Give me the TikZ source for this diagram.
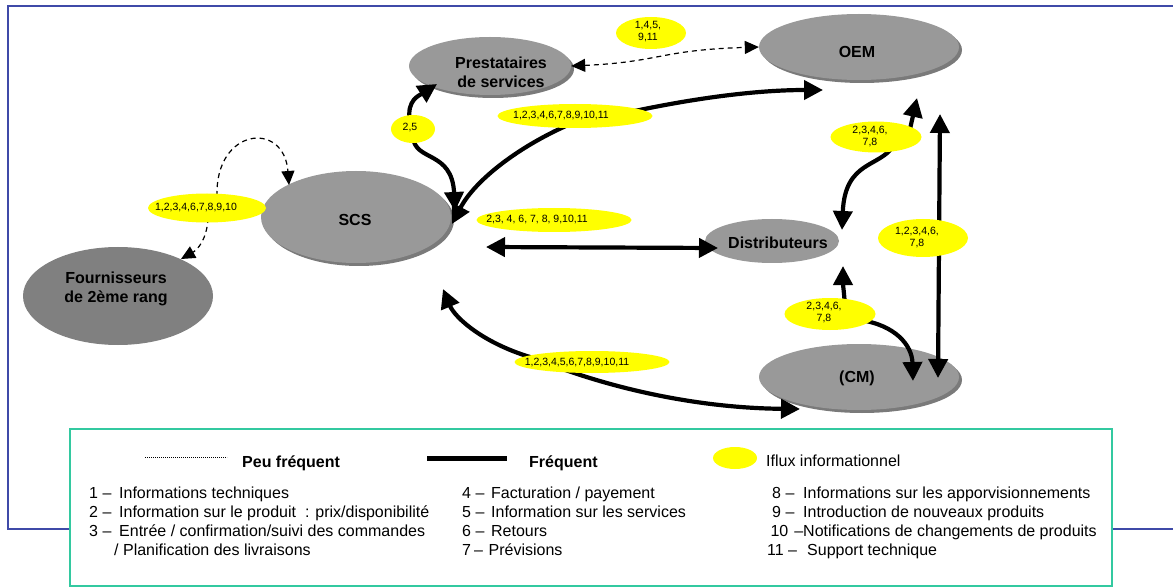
\documentclass[tikz,border=0pt]{standalone}
\usepackage{fontspec}
\setmainfont{Liberation Sans}
\usetikzlibrary{shapes.geometric,arrows.meta,shadows}

\definecolor{frameblue}{HTML}{3F4AA8}
\definecolor{legendteal}{HTML}{33C9A0}
\definecolor{actorgray}{HTML}{999999}
\definecolor{actordark}{HTML}{808080}
\definecolor{shadowgray}{HTML}{7A7A7A}
\definecolor{fluxyellow}{HTML}{FFFF00}

\pgfdeclarelayer{actors}
\pgfdeclarelayer{labels}
\pgfsetlayers{actors,main,labels}

\tikzset{
  freqtip/.tip={Triangle[length=19pt,width=19pt]},
  raretip/.tip={Triangle[length=14pt,width=13pt]},
  actor/.style={ellipse, fill=actorgray, inner sep=0pt},
  actorshadow/.style={general shadow={fill=shadowgray, shadow xshift=3pt, shadow yshift=-3pt}},
  actorlabel/.style={font=\fontsize{16}{19}\selectfont\bfseries, align=center, inner sep=0pt},
  flux/.style={ellipse, fill=fluxyellow, inner sep=0pt},
  fluxlabel/.style={font=\fontsize{10.5}{12}\selectfont, align=center, inner sep=0pt},
  frequent/.style={line width=4.2pt, -freqtip},
  frequentboth/.style={line width=4.2pt, freqtip-freqtip},
  rare/.style={line width=1.2pt, dash pattern=on 5pt off 4pt, -raretip},
  rareboth/.style={line width=1.2pt, dash pattern=on 5pt off 4pt, raretip-raretip},
  framecolor/.style={draw=frameblue, line width=1.5pt},
  legendbox/.style={draw=legendteal, fill=white, line width=1.3pt},
  legendhead/.style={font=\fontsize{16}{19}\selectfont\bfseries, anchor=base west, inner sep=0pt},
  legendtext/.style={font=\fontsize{16}{19}\selectfont, anchor=base west, inner sep=0pt},
}

\begin{document}
\begin{tikzpicture}[x=1pt,y=-1pt]
\useasboundingbox (0,0) rectangle (1173,588);

\begin{pgfonlayer}{actors}
  % outer frame and legend panel
  \draw[framecolor] (1173,6) -- (8,6) -- (8,529) -- (1173,529);
  \draw[legendbox] (70,429) rectangle (1112,586);

  % actors of the chain
  \node[actor, fill=actordark, minimum width=190pt, minimum height=98pt] (fourn) at (118,296) {};
  \node[actorlabel] (fourn-t) at (116,289) {Fournisseurs\\de 2ème rang};

  \node[actor, actorshadow, minimum width=190pt, minimum height=92pt] (scs) at (356,217) {};
  \node[actorlabel] (scs-t) at (355,220) {SCS};

  \node[actor, actorshadow, minimum width=162pt, minimum height=58pt] (prest) at (490,66) {};
  \node[actorlabel] (prest-t) at (501,72) {Prestataires\\de services};

  \node[actor, actorshadow, minimum width=200pt, minimum height=66pt] (oem) at (859,47) {};
  \node[actorlabel] (oem-t) at (857,52) {OEM};

  \node[actor, minimum width=134pt, minimum height=44pt] (dist) at (772,241) {};
  \node[actorlabel] (dist-t) at (778,243) {Distributeurs};

  \node[actor, actorshadow, minimum width=200pt, minimum height=66pt] (cm) at (859,377) {};
  \node[actorlabel] (cm-t) at (857,378) {(CM)};
\end{pgfonlayer}

\begin{pgfonlayer}{labels}
  % information flows
  \node[flux, minimum width=118pt, minimum height=29pt] (f1) at (207,208) {};
  \node[fluxlabel] (f1-t) at (196,208) {1,2,3,4,6,7,8,9,10};
  \node[flux, minimum width=70pt, minimum height=32pt] (f2) at (651,33) {};
  \node[fluxlabel] (f2-t) at (648,32) {1,4,5,\\9,11};
  \node[flux, minimum width=44pt, minimum height=28pt] (f3) at (413,129) {};
  \node[fluxlabel] (f3-t) at (410,128) {2,5};
  \node[flux, minimum width=155pt, minimum height=24pt] (f4) at (575,116) {};
  \node[fluxlabel] (f4-t) at (561,116) {1,2,3,4,6,7,8,9,10,11};
  \node[flux, minimum width=155pt, minimum height=24pt] (f5) at (554,220) {};
  \node[fluxlabel] (f5-t) at (537,220) {2,3, 4, 6, 7, 8, 9,10,11};
  \node[flux, minimum width=91pt, minimum height=31pt] (f6) at (876,137) {};
  \node[fluxlabel] (f6-t) at (870,137) {2,3,4,6,\\7,8};
  \node[flux, minimum width=90pt, minimum height=38pt] (f7) at (923,238) {};
  \node[fluxlabel] (f7-t) at (917,238) {1,2,3,4,6,\\7,8};
  \node[flux, minimum width=91pt, minimum height=32pt] (f8) at (830,314) {};
  \node[fluxlabel] (f8-t) at (824,313) {2,3,4,6,\\7,8};
  \node[flux, minimum width=155pt, minimum height=22pt] (f9) at (592,362) {};
  \node[fluxlabel] (f9-t) at (577,363) {1,2,3,4,5,6,7,8,9,10,11};
\end{pgfonlayer}

% arrow ends
\coordinate (tFourn)   at (181,259);
\coordinate (tScsTop)  at (289,185);
\coordinate (tPrestB)  at (437,84);
\coordinate (tScsA)    at (455,211);
\coordinate (tScsB)    at (452,224);
\coordinate (tOemB)    at (823,90);
\coordinate (tScsR)    at (486,247);
\coordinate (tDistL)   at (718,248);
\coordinate (tDistTR)  at (842,230);
\coordinate (tOemBR)   at (917,98);
\coordinate (tOemV)    at (940,114);
\coordinate (tCmV)     at (938,378);
\coordinate (tDistB)   at (843,266);
\coordinate (tCmR)     at (913,381);
\coordinate (tScsLow)  at (443,289);
\coordinate (tCmL)     at (800,409);

% occasional exchanges
\draw[rare] ([shift={(1,10)}]f1.center) .. controls (207,240) and (197,250) .. (tFourn);
\draw[rare] ([shift={(10,-12)}]f1.center) .. controls (215,128) and (284,120) .. (tScsTop);
\draw[rareboth] (prest.east) .. controls (660,62) and (660,50) .. (oem.west);

% frequent exchanges
\draw[frequent] ([shift={(-3,-8)}]f3.center) .. controls (406,100) and (420,95) .. (tPrestB);
\draw[frequent] ([shift={(0,8)}]f3.center) .. controls (415,162) and (452,150) .. (tScsA);
\draw[frequent] ([shift={(55,-4)}]f4.center) .. controls (700,97) and (760,90) .. (tOemB);
\draw[frequent] ([shift={(0,6)}]f4.center) .. controls (520,145) and (475,180) .. (tScsB);
\draw[frequentboth] (tScsR) -- (tDistL);
\draw[frequent] ([shift={(18,8)}]f6.center) .. controls (880,168) and (845,160) .. (tDistTR);
\draw[frequent] ([shift={(34,-8)}]f6.center) -- (tOemBR);
\draw[frequentboth] (tOemV) -- (tCmV);
\draw[frequent] ([shift={(15,-8)}]f8.center) .. controls (844,292) and (843,285) .. (tDistB);
\draw[frequent] ([shift={(30,6)}]f8.center) .. controls (895,325) and (912,345) .. (tCmR);
\draw[frequent] ([shift={(-55,-3)}]f9.center) .. controls (485,345) and (455,318) .. (tScsLow);
\draw[frequent] ([shift={(-35,5)}]f9.center) .. controls (620,390) and (700,408) .. (tCmL);

% legend
\draw[line width=0.8pt, dash pattern=on 0.8pt off 1.2pt] (145,457) -- (227,457);
\node[legendhead] (lg-rare) at (242,467) {Peu fréquent};
\draw[line width=5pt] (427,458) -- (507,458);
\node[legendhead] (lg-freq) at (529,467) {Fréquent};
\node[flux, minimum width=44pt, minimum height=22pt] (lg-flux) at (735,458) {};
\node[legendtext] (lg-flux-t) at (766,466) {Iflux informationnel};

\node[legendtext] (i1)  at (89,498)  {\makebox[30pt][l]{1 –}Informations techniques};
\node[legendtext] (i2)  at (89,517)  {\makebox[30pt][l]{2 –}Information sur le produit\ \ : prix/disponibilité};
\node[legendtext] (i3)  at (89,536)  {\makebox[30pt][l]{3 –}Entrée / confirmation/suivi des commandes};
\node[legendtext] (i3b) at (114,555) {/ Planification des livraisons};

\node[legendtext] (i4) at (462,498) {\makebox[29pt][l]{4 –}Facturation / payement};
\node[legendtext] (i5) at (462,517) {\makebox[29pt][l]{5 –}Information sur les services};
\node[legendtext] (i6) at (462,536) {\makebox[29pt][l]{6 –}Retours};
\node[legendtext] (i7) at (462,555) {\makebox[26.5pt][l]{7\hspace{3pt}–}Prévisions};

\node[legendtext] (i8)  at (772,498) {\makebox[31pt][l]{8 –}Informations sur les apporvisionnements};
\node[legendtext] (i9)  at (772,517) {\makebox[31pt][l]{9 –}Introduction de nouveaux produits};
\node[legendtext] (i10) at (767,536) {\makebox[36pt][r]{10\hspace{6pt}–}Notifications de changements de produits};
\node[legendtext] (i11) at (767,555) {\makebox[40pt][l]{11 –}Support technique};
\end{tikzpicture}
\end{document}
